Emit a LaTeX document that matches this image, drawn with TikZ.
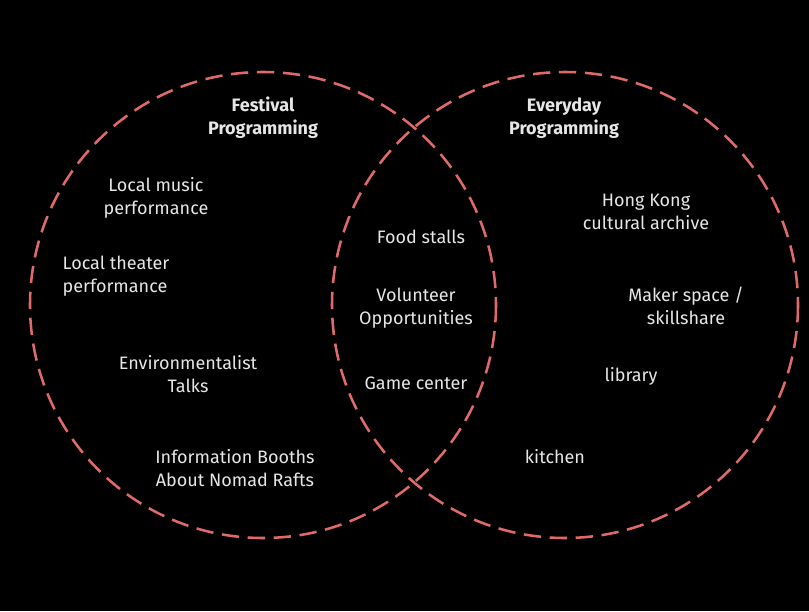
\documentclass[tikz,border=0pt]{standalone}
\usepackage{fontspec}
\setmainfont{Fira Sans}
\definecolor{ringcol}{HTML}{E06A6A}
\definecolor{txtcol}{HTML}{E6E6E6}
\begin{document}
\begin{tikzpicture}[x=0.75pt,y=-0.75pt,
  ring/.style={draw=ringcol,line width=1.9pt,dash pattern=on 13pt off 6.5pt},
  lbl/.style={text=txtcol,font=\fontsize{13.5}{17}\selectfont,align=center,inner sep=0pt},
  head/.style={lbl,font=\fontsize{13.5}{17}\selectfont\bfseries}]
\fill[black,use as bounding box] (0,0) rectangle (809,611);
\draw[ring] (263,305) circle[radius=233];
\draw[ring] (565,305) circle[radius=233];
\node[head] (fest) at (263,118) {Festival\\Programming};
\node[head] (every) at (564,118) {Everyday\\Programming};
\node[lbl] (music) at (156,198) {Local music\\performance};
\node[lbl,align=left] (theater) at (116,276) {Local theater\\performance};
\node[lbl] (env) at (188,374) {Environmentalist\\Talks};
\node[lbl] (info) at (235,468) {Information Booths\\About Nomad Rafts};
\node[lbl] (food) at (421,237) {Food stalls};
\node[lbl] (vol) at (416,308) {Volunteer\\Opportunities};
\node[lbl] (game) at (416,383) {Game center};
\node[lbl] (hk) at (646,212) {Hong Kong\\cultural archive};
\node[lbl] (maker) at (686,306) {Maker space /\\skillshare};
\node[lbl] (lib) at (631,376) {library};
\node[lbl] (kit) at (555,457) {kitchen};
\end{tikzpicture}
\end{document}
